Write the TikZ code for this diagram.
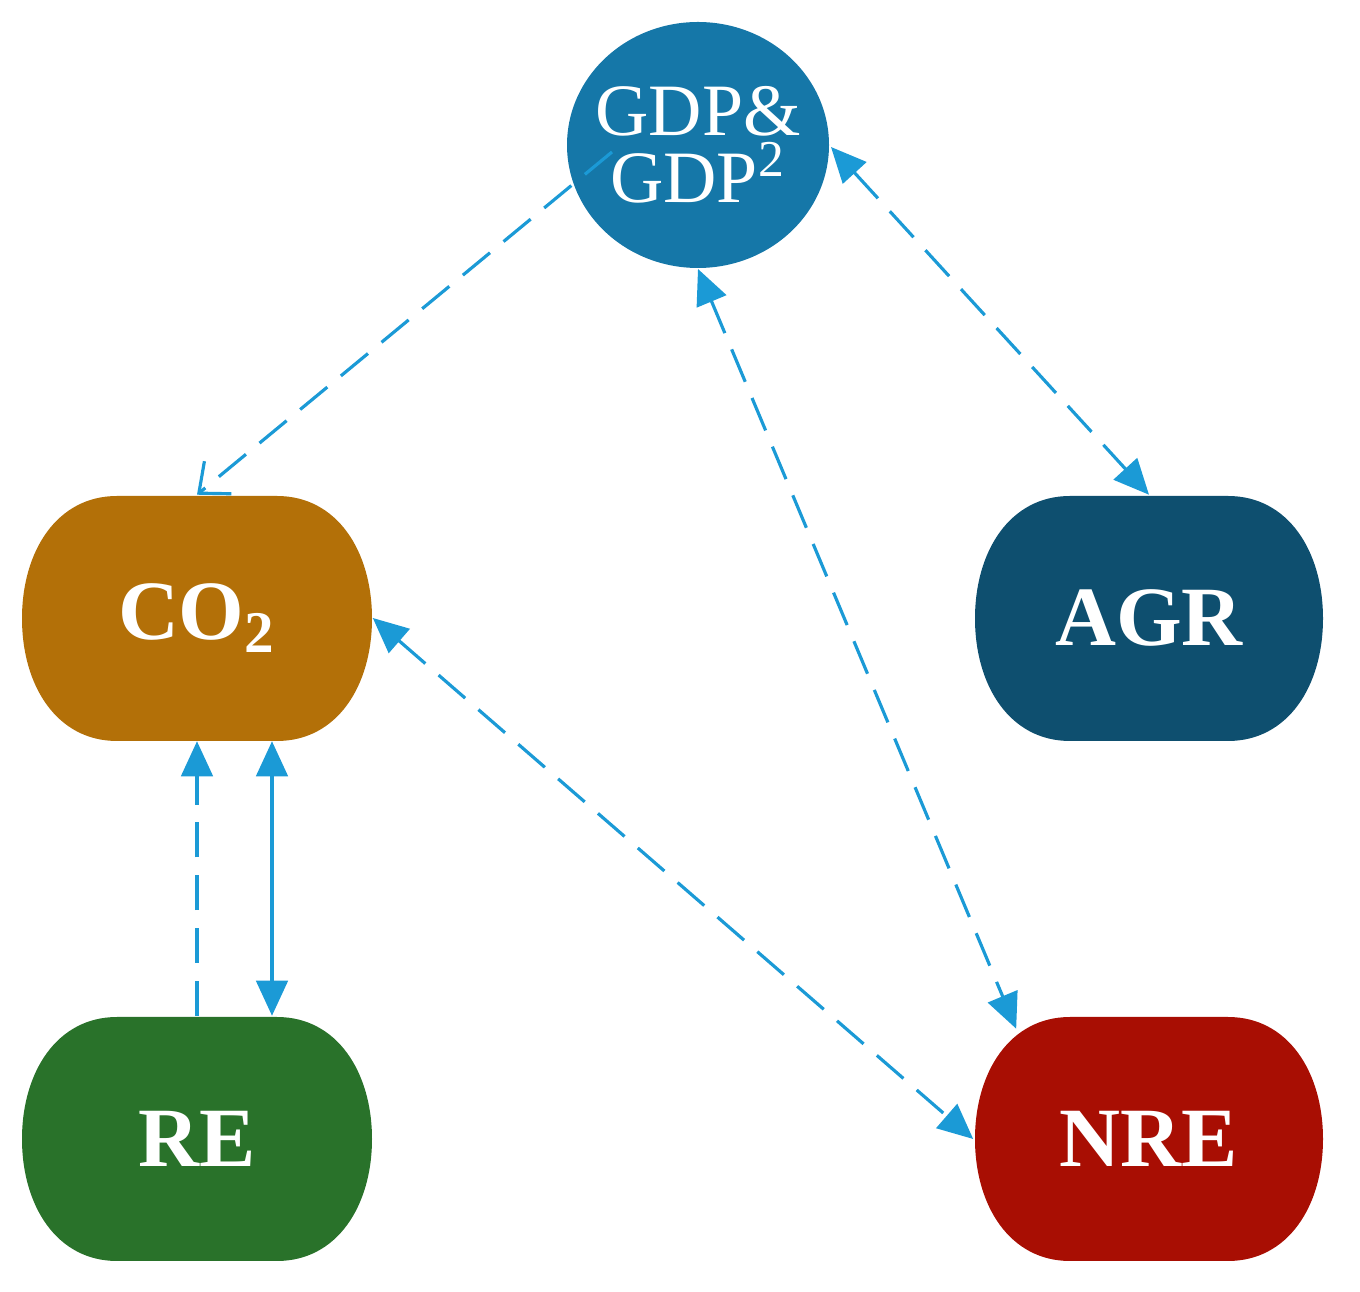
\documentclass[tikz,border=0pt]{standalone}
\usepackage{fontspec}
\setmainfont{Liberation Serif}
\usetikzlibrary{shapes.geometric,arrows.meta,calc}
\definecolor{gdpc}{HTML}{1577A8}
\definecolor{co2c}{HTML}{B37008}
\definecolor{agrc}{HTML}{0E4F6F}
\definecolor{rec}{HTML}{29722A}
\definecolor{nrec}{HTML}{A80E03}
\definecolor{arc}{HTML}{1B9AD6}
\newcommand\barrelshape[5]{%
 \fill[#1] ({#2+95},#3) -- ({#4-95},#3) .. controls ({#4-35},#3) and (#4,{#3+55}) .. (#4,{(#3+#5)/2})
  .. controls (#4,{#5-55}) and ({#4-35},#5) .. ({#4-95},#5) -- ({#2+95},#5)
  .. controls ({#2+35},#5) and (#2,{#5-55}) .. (#2,{(#3+#5)/2})
  .. controls (#2,{#3+55}) and ({#2+35},#3) .. cycle;}
\tikzset{
 boxn/.style={rectangle,minimum width=3.5cm,minimum height=2.45cm,inner sep=0pt,text=white,font=\fontsize{24}{24}\selectfont\bfseries},
 conn/.style={draw=arc,line width=0.9pt},
 dsh/.style={dash pattern=on 10pt off 5pt},
 tri/.style={-{Triangle[length=10pt,width=9pt]}},
 ttri/.style={{Triangle[length=10pt,width=9pt]}-{Triangle[length=10pt,width=9pt]}}
}
\begin{document}
\begin{tikzpicture}[x=0.01cm,y=-0.01cm]
\useasboundingbox (0,0) rectangle (1360,1292);
\fill[gdpc] (698,145) ellipse [x radius=131,y radius=123];
\barrelshape{co2c}{22}{496}{372}{741}
\barrelshape{agrc}{975}{496}{1323}{741}
\barrelshape{rec}{22}{1017}{372}{1261}
\barrelshape{nrec}{975}{1017}{1323}{1261}
\node[circle,minimum size=2.5cm,inner sep=0pt,text=white,align=center,font=\fontsize{21}{22}\selectfont] (gdp) at (698,145) {GDP\&\\[-3pt]GDP\textsuperscript{2}};
\node[boxn] (co2) at (197,618) {CO\textsubscript{2}};
\node[boxn] (agr) at (1149,618) {AGR};
\node[boxn] (re) at (197,1139) {RE};
\node[boxn] (nre) at (1149,1139) {NRE};
\draw[conn,dsh,-{Straight Barb[length=7pt,width=12pt]}] ($(gdp.center)+(-86,7)$) -- (co2.north);
\draw[conn,dsh,ttri] ($(gdp.center)+(133,2)$) -- (agr.north);
\draw[conn,dsh,ttri] ($(gdp.center)+(0,124)$) -- ($(nre.north west)+(43,13)$);
\draw[conn,dsh,ttri] (co2.east) -- (nre.west);
\draw[conn,dsh,tri] (re.north) -- (co2.south);
\draw[conn,ttri] ($(co2.south)+(75,0)$) -- ($(re.north)+(75,0)$);
\end{tikzpicture}
\end{document}
